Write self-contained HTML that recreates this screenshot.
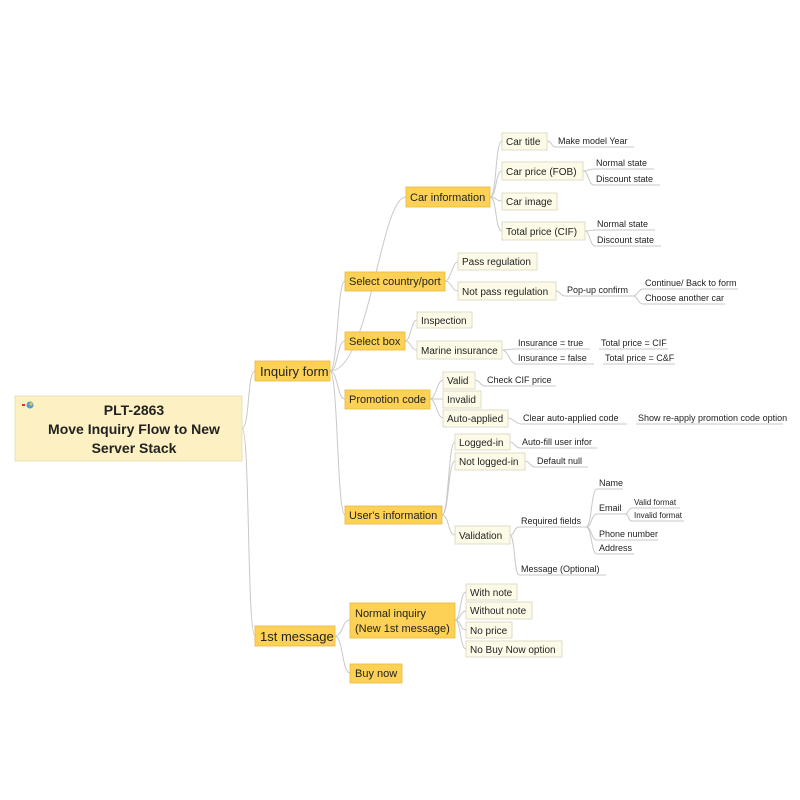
<!DOCTYPE html>
<html><head><meta charset="utf-8"><style>
html,body{margin:0;padding:0;background:#fff;width:800px;height:800px;overflow:hidden}
svg{display:block}
text{font-family:"Liberation Sans",Arial,sans-serif;fill:#222}
.g{fill:#fcd156;stroke:#e8b93a;stroke-width:0.8}
.c{fill:#fdfbe8;stroke:#d8d5bc;stroke-width:0.8}
.l{fill:none;stroke:#c8c8c8;stroke-width:1}
.u{stroke:#c8c8c8;stroke-width:1}
.t2{font-size:11px}.t3{font-size:10px}.t4{font-size:9px}.t5{font-size:8px}
</style></head><body>
<svg width="800" height="800" viewBox="0 0 800 800" xmlns="http://www.w3.org/2000/svg">
<!-- connectors -->
<g class="l">
<path d="M242 428 C250 428 247 371 255 371"/>
<path d="M242 428 C250 428 247 636 255 636"/>
<path d="M330 371 C338 371 337 281 345 281"/>
<path d="M330 371 C338 371 337 341 345 341"/>
<path d="M330 371 C338 371 337 399 345 399"/>
<path d="M330 371 C338 371 337 515 345 515"/>
<path d="M330 371 C370 371 380 197 406 197"/>
<path d="M335 636 C343 636 342 620 350 620"/>
<path d="M335 636 C343 636 342 673 350 673"/>
<path d="M490 197 C497 197 495 141 502 141"/>
<path d="M490 197 C497 197 495 171 502 171"/>
<path d="M490 197 C497 197 495 201 502 201"/>
<path d="M490 197 C497 197 495 231 502 231"/>
<path d="M547 141 C552 141 551 147 556 147"/>
<path d="M583 171 C589 171 588 169 594 169"/>
<path d="M583 171 C589 171 588 185 594 185"/>
<path d="M585 231 C590 231 590 230 595 230"/>
<path d="M585 231 C590 231 590 246 595 246"/>
<path d="M445 281 C451 281 452 262 458 262"/>
<path d="M445 281 C451 281 452 291 458 291"/>
<path d="M556 291 C560 291 561 296 565 296"/>
<path d="M633 296 C638 296 638 289 643 289"/>
<path d="M633 296 C638 296 638 304 643 304"/>
<path d="M405 341 C411 341 411 320 417 320"/>
<path d="M405 341 C411 341 411 350 417 350"/>
<path d="M502 350 C508 350 510 349 516 349"/>
<path d="M502 350 C508 350 510 364 516 364"/>
<path d="M430 399 C436 399 437 380 443 380"/>
<path d="M430 399 C436 399 437 399 443 399"/>
<path d="M430 399 C436 399 437 418 443 418"/>
<path d="M475 380 C480 380 480 386 485 386"/>
<path d="M508 418 C513 418 516 424 521 424"/>
<path d="M442 515 C449 515 448 442 455 442"/>
<path d="M442 515 C449 515 448 461 455 461"/>
<path d="M442 515 C449 515 448 535 455 535"/>
<path d="M510 442 C515 442 515 448 520 448"/>
<path d="M525 461 C530 461 530 467 535 467"/>
<path d="M510 535 C515 535 514 527 519 527"/>
<path d="M510 535 C515 535 514 575 519 575"/>
<path d="M586 527 C592 527 591 489 597 489"/>
<path d="M586 527 C592 527 591 514 597 514"/>
<path d="M586 527 C592 527 591 540 597 540"/>
<path d="M586 527 C592 527 591 554 597 554"/>
<path d="M625 514 C629 514 628 508 632 508"/>
<path d="M625 514 C629 514 628 521 632 521"/>
<path d="M455 620 C461 620 460 592 466 592"/>
<path d="M455 620 C461 620 460 611 466 611"/>
<path d="M455 620 C461 620 460 630 466 630"/>
<path d="M455 620 C461 620 460 649 466 649"/>
</g>
<!-- root -->
<rect x="15" y="396" width="227" height="65" fill="#fdf0c2" stroke="#e6dcb0" stroke-width="0.8"/>
<circle cx="30" cy="405" r="3.5" fill="#4aa0d8"/><circle cx="31" cy="404" r="1.6" fill="#f0c040"/><rect x="22" y="404" width="3" height="2" fill="#d33"/>
<text x="134" y="415" font-size="14" font-weight="bold" text-anchor="middle">PLT-2863</text>
<text x="134" y="434" font-size="14" font-weight="bold" text-anchor="middle">Move Inquiry Flow to New</text>
<text x="134" y="453" font-size="14" font-weight="bold" text-anchor="middle">Server Stack</text>
<!-- level1 -->
<rect class="g" x="255" y="361" width="75" height="20"/><text x="260" y="376" font-size="13">Inquiry form</text>
<rect class="g" x="255" y="626" width="80" height="20"/><text x="260" y="641" font-size="13">1st message</text>
<!-- level2 -->
<rect class="g" x="406" y="187" width="84" height="20"/><text class="t2" x="410" y="201">Car information</text>
<rect class="g" x="345" y="272" width="100" height="19"/><text class="t2" x="349" y="285">Select country/port</text>
<rect class="g" x="345" y="332" width="60" height="18"/><text class="t2" x="349" y="345">Select box</text>
<rect class="g" x="345" y="390" width="85" height="19"/><text class="t2" x="349" y="403">Promotion code</text>
<rect class="g" x="345" y="506" width="97" height="18"/><text class="t2" x="349" y="519">User's information</text>
<rect class="g" x="350" y="603" width="105" height="35"/><text class="t2" x="355" y="617">Normal inquiry</text><text class="t2" x="355" y="632">(New 1st message)</text>
<rect class="g" x="350" y="664" width="52" height="19"/><text class="t2" x="355" y="677">Buy now</text>
<!-- level3 -->
<g class="t3">
<rect class="c" x="502" y="133" width="45" height="17"/><text x="506" y="145">Car title</text>
<rect class="c" x="502" y="162" width="81" height="18"/><text x="506" y="175">Car price (FOB)</text>
<rect class="c" x="502" y="193" width="55" height="17"/><text x="506" y="205">Car image</text>
<rect class="c" x="502" y="222" width="83" height="18"/><text x="506" y="235">Total price (CIF)</text>
<rect class="c" x="458" y="253" width="79" height="17"/><text x="462" y="265">Pass regulation</text>
<rect class="c" x="458" y="282" width="98" height="18"/><text x="462" y="295">Not pass regulation</text>
<rect class="c" x="417" y="312" width="55" height="16"/><text x="421" y="324">Inspection</text>
<rect class="c" x="417" y="341" width="85" height="18"/><text x="421" y="354">Marine insurance</text>
<rect class="c" x="443" y="372" width="32" height="17"/><text x="447" y="384">Valid</text>
<rect class="c" x="443" y="391" width="38" height="17"/><text x="447" y="403">Invalid</text>
<rect class="c" x="443" y="410" width="65" height="17"/><text x="447" y="422">Auto-applied</text>
<rect class="c" x="455" y="434" width="55" height="16"/><text x="459" y="446">Logged-in</text>
<rect class="c" x="455" y="453" width="70" height="17"/><text x="459" y="465">Not logged-in</text>
<rect class="c" x="455" y="526" width="55" height="18"/><text x="459" y="539">Validation</text>
<rect class="c" x="466" y="584" width="51" height="16"/><text x="470" y="596">With note</text>
<rect class="c" x="466" y="602" width="66" height="17"/><text x="470" y="614">Without note</text>
<rect class="c" x="466" y="622" width="46" height="16"/><text x="470" y="634">No price</text>
<rect class="c" x="466" y="641" width="96" height="16"/><text x="470" y="653">No Buy Now option</text>
</g>
<!-- plain text -->
<g class="t4">
<text x="558" y="144">Make model Year</text>
<text x="596" y="166">Normal state</text>
<text x="596" y="182">Discount state</text>
<text x="597" y="227">Normal state</text>
<text x="597" y="243">Discount state</text>
<text x="567" y="293">Pop-up confirm</text>
<text x="645" y="286">Continue/ Back to form</text>
<text x="645" y="301">Choose another car</text>
<text x="518" y="346">Insurance = true</text>
<text x="601" y="346">Total price = CIF</text>
<text x="518" y="361">Insurance = false</text>
<text x="605" y="361">Total price = C&amp;F</text>
<text x="487" y="383">Check CIF price</text>
<text x="523" y="421">Clear auto-applied code</text>
<text x="638" y="421">Show re-apply promotion code option</text>
<text x="522" y="445">Auto-fill user infor</text>
<text x="537" y="464">Default null</text>
<text x="599" y="486">Name</text>
<text x="599" y="511">Email</text>
<text x="521" y="524">Required fields</text>
<text x="599" y="537">Phone number</text>
<text x="599" y="551">Address</text>
<text x="521" y="572">Message (Optional)</text>
</g>
<g class="t5">
<text x="634" y="505">Valid format</text>
<text x="634" y="518">Invalid format</text>
</g>
<!-- underlines -->
<g class="u">
<line x1="556" y1="147" x2="634" y2="147"/>
<line x1="594" y1="169" x2="654" y2="169"/>
<line x1="594" y1="185" x2="660" y2="185"/>
<line x1="595" y1="230" x2="655" y2="230"/>
<line x1="595" y1="246" x2="661" y2="246"/>
<line x1="565" y1="296" x2="633" y2="296"/>
<line x1="643" y1="289" x2="738" y2="289"/>
<line x1="643" y1="304" x2="725" y2="304"/>
<line x1="516" y1="349" x2="590" y2="349"/>
<line x1="599" y1="349" x2="668" y2="349"/>
<line x1="516" y1="364" x2="594" y2="364"/>
<line x1="603" y1="364" x2="675" y2="364"/>
<line x1="485" y1="386" x2="556" y2="386"/>
<line x1="521" y1="424" x2="627" y2="424"/>
<line x1="636" y1="424" x2="783" y2="424"/>
<line x1="520" y1="448" x2="597" y2="448"/>
<line x1="535" y1="467" x2="588" y2="467"/>
<line x1="597" y1="489" x2="623" y2="489"/>
<line x1="597" y1="514" x2="625" y2="514"/>
<line x1="632" y1="508" x2="680" y2="508"/>
<line x1="632" y1="521" x2="684" y2="521"/>
<line x1="519" y1="527" x2="586" y2="527"/>
<line x1="597" y1="540" x2="658" y2="540"/>
<line x1="597" y1="554" x2="634" y2="554"/>
<line x1="519" y1="575" x2="606" y2="575"/>
</g>
</svg>
</body></html>
